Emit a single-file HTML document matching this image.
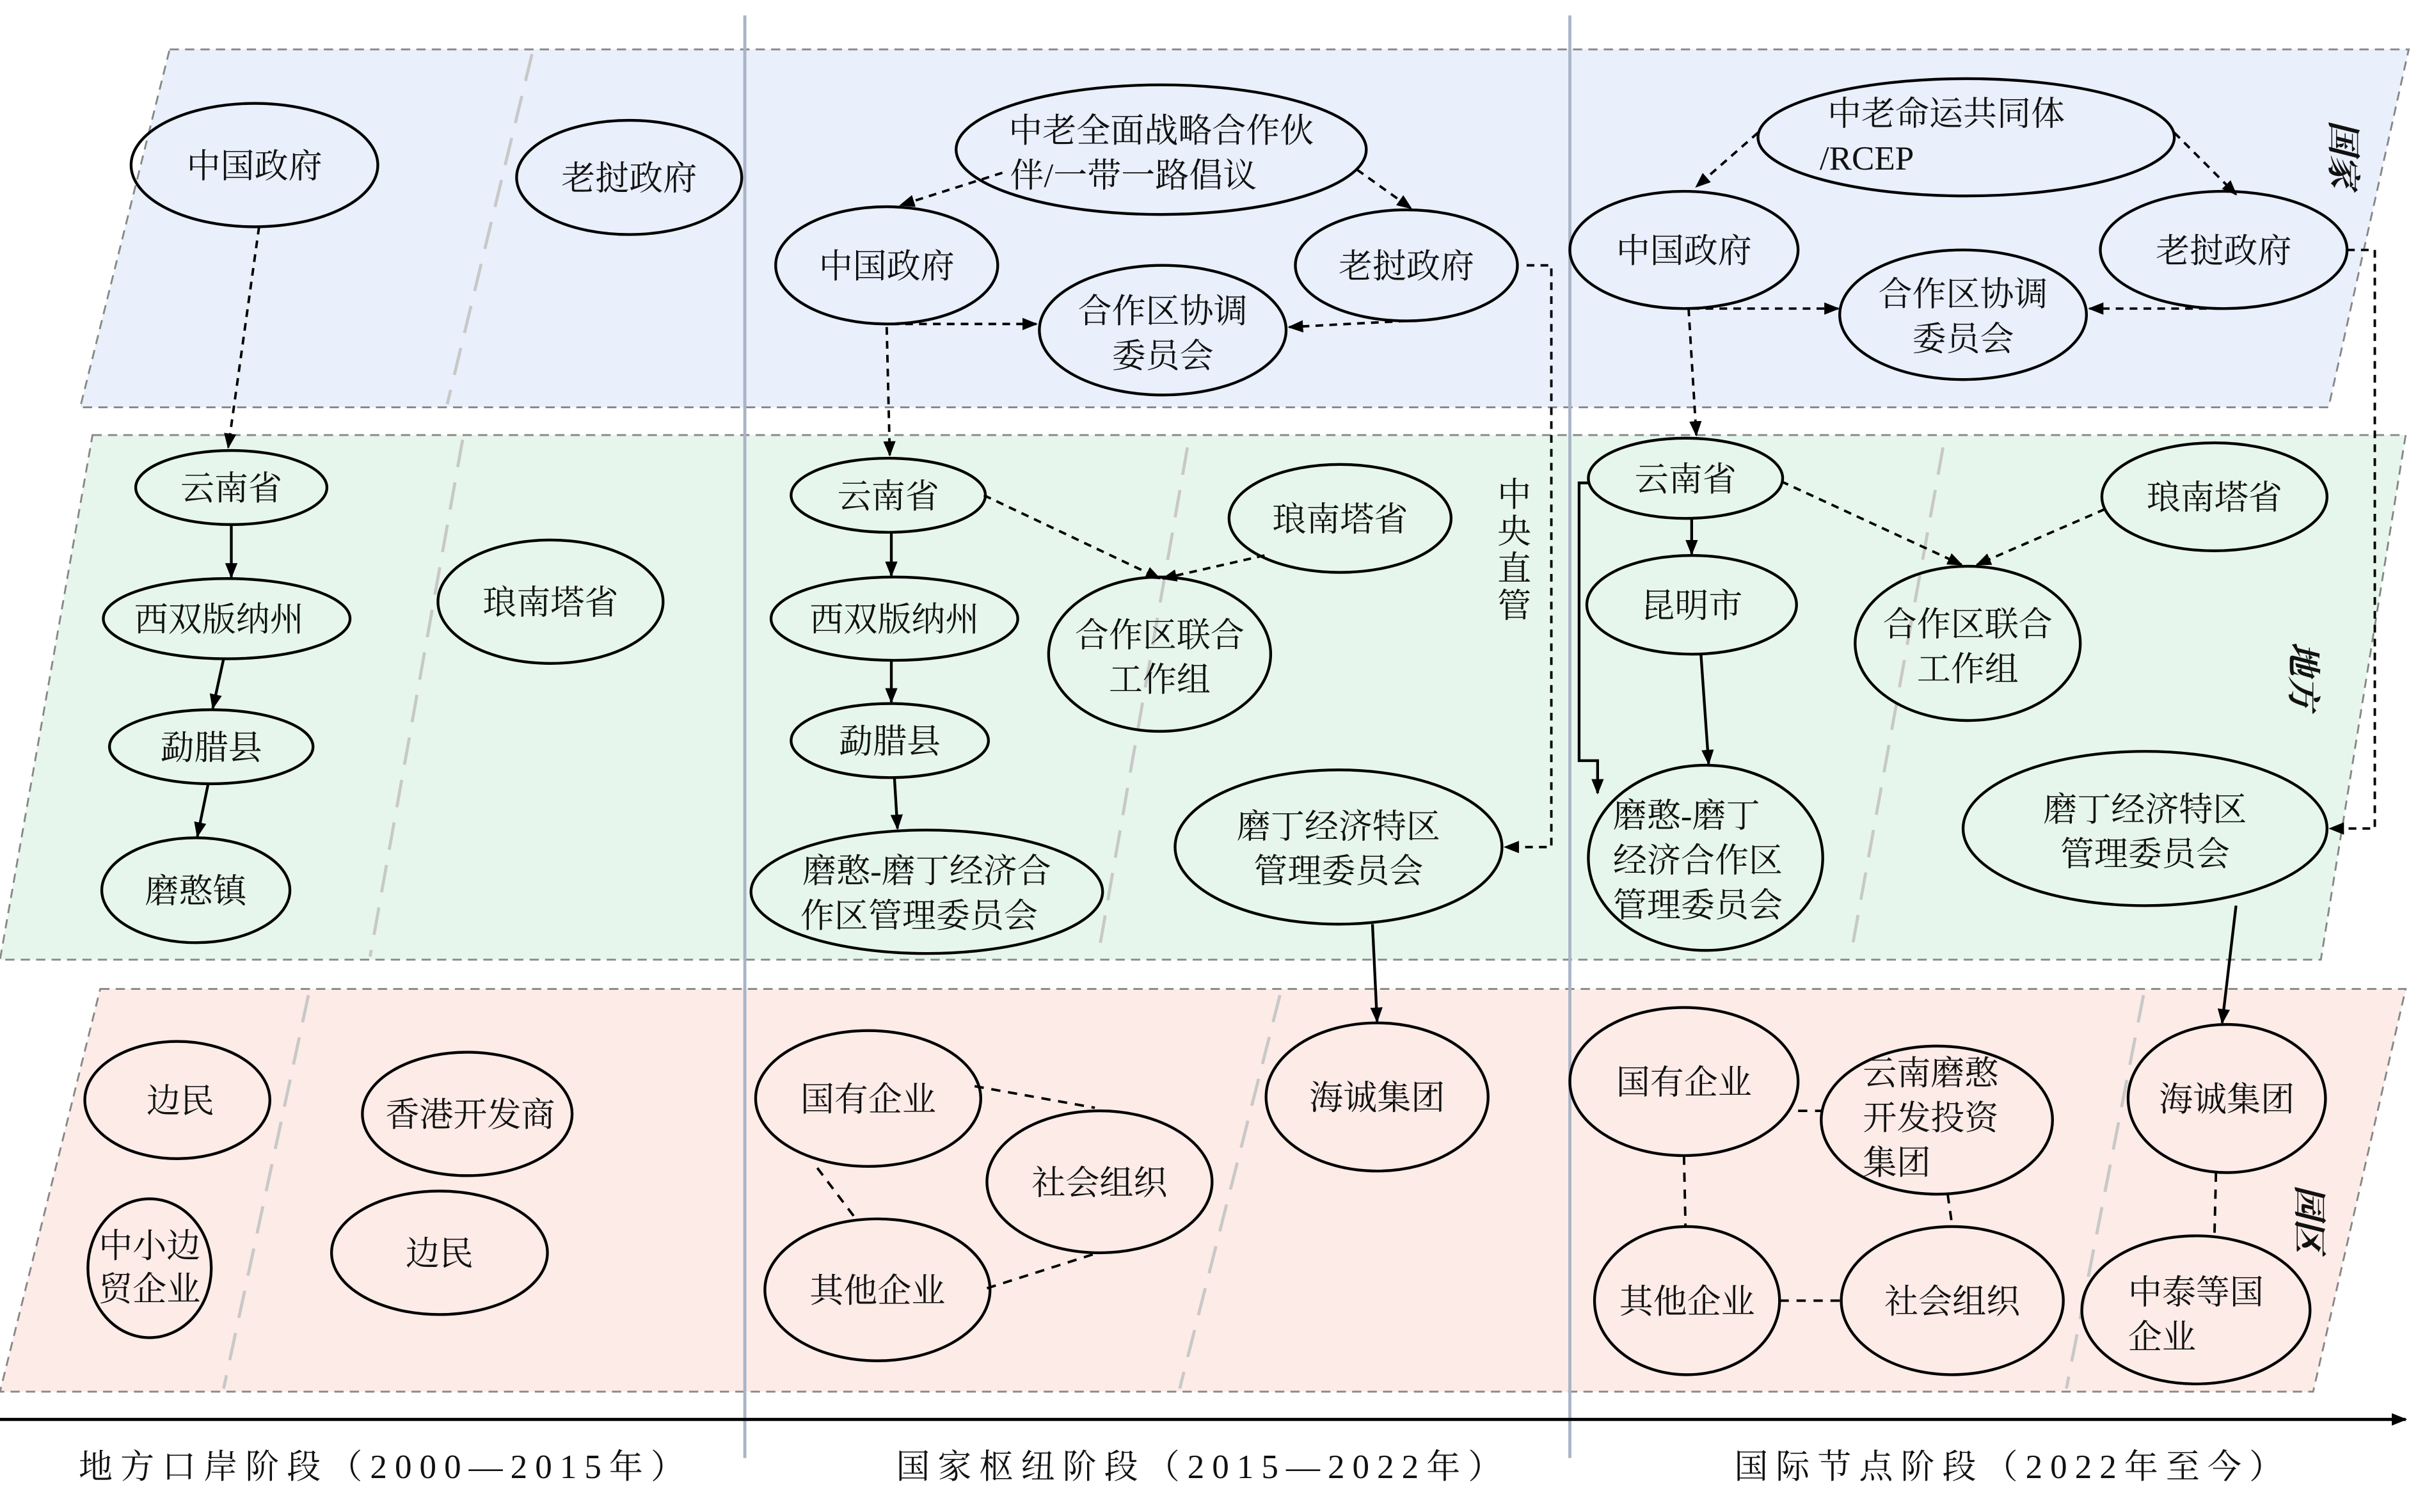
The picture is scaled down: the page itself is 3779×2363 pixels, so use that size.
<!DOCTYPE html>
<html><head><meta charset="utf-8"><style>
html,body{margin:0;padding:0;background:#fff;}
svg{display:block;}
text{font-family:"Liberation Serif","Noto Serif CJK SC","Noto Sans CJK SC",serif;font-size:22px;fill:#111;}
</style></head><body>
<svg width="3779" height="2363" viewBox="0 0 1568 980" preserveAspectRatio="none" xmlns="http://www.w3.org/2000/svg">
<defs>
<marker id="a" markerWidth="10" markerHeight="10" refX="9" refY="5" orient="auto" markerUnits="userSpaceOnUse"><path d="M0,1 L10,5 L0,9 z" fill="#000"/></marker>
</defs>
<polygon points="110,32 1562,32 1510,264 52,264" fill="#e9effb" stroke="#888" stroke-dasharray="6,4" stroke-width="1.2"/>
<polygon points="60,282 1560,282 1505,622 0,622" fill="#e6f6ec" stroke="#888" stroke-dasharray="6,4" stroke-width="1.2"/>
<polygon points="65,641 1560,641 1500,902 0,902" fill="#fcebe7" stroke="#888" stroke-dasharray="6,4" stroke-width="1.2"/>
<g stroke="#c8c8c8" stroke-width="2" stroke-dasharray="18,10">
<line x1="345" y1="35" x2="290" y2="262"/>
<line x1="300" y1="285" x2="240" y2="620"/>
<line x1="770" y1="290" x2="712" y2="620"/>
<line x1="1260" y1="290" x2="1200" y2="620"/>
<line x1="200" y1="645" x2="145" y2="900"/>
<line x1="830" y1="645" x2="765" y2="900"/>
<line x1="1390" y1="645" x2="1340" y2="900"/>
</g>
<line x1="483" y1="10" x2="483" y2="945" stroke="#a9b4c6" stroke-width="2"/>
<line x1="1018" y1="10" x2="1018" y2="945" stroke="#a9b4c6" stroke-width="2"/>
<line x1="0" y1="920" x2="1560" y2="920" stroke="#000" stroke-width="2" marker-end="url(#a)"/>

<g fill="none" stroke="#000" stroke-width="1.8">
<ellipse cx="165" cy="107" rx="80" ry="40"/>
<ellipse cx="408" cy="115" rx="73" ry="37"/>
<ellipse cx="150" cy="316" rx="62" ry="24"/>
<ellipse cx="147" cy="401" rx="80" ry="26"/>
<ellipse cx="137" cy="484" rx="66" ry="24"/>
<ellipse cx="127" cy="577" rx="61" ry="34"/>
<ellipse cx="357" cy="390" rx="73" ry="40"/>
<ellipse cx="115" cy="713" rx="60" ry="38"/>
<ellipse cx="303" cy="722" rx="68" ry="40"/>
<ellipse cx="97" cy="822" rx="40" ry="45"/>
<ellipse cx="285" cy="812" rx="70" ry="40"/>
<ellipse cx="753" cy="97" rx="133" ry="42"/>
<ellipse cx="575" cy="172" rx="72" ry="38"/>
<ellipse cx="912" cy="172" rx="72" ry="36"/>
<ellipse cx="754" cy="214" rx="80" ry="42"/>
<ellipse cx="576" cy="321" rx="63" ry="24"/>
<ellipse cx="580" cy="401" rx="80" ry="27"/>
<ellipse cx="577" cy="480" rx="64" ry="24"/>
<ellipse cx="601" cy="578" rx="114" ry="40"/>
<ellipse cx="869" cy="336" rx="72" ry="35"/>
<ellipse cx="752" cy="424" rx="72" ry="50"/>
<ellipse cx="868" cy="549" rx="106" ry="50"/>
<ellipse cx="893" cy="711" rx="72" ry="48"/>
<ellipse cx="563" cy="712" rx="73" ry="44"/>
<ellipse cx="713" cy="766" rx="73" ry="46"/>
<ellipse cx="569" cy="836" rx="73" ry="46"/>
<ellipse cx="1275" cy="89" rx="135" ry="38"/>
<ellipse cx="1092" cy="162" rx="74" ry="38"/>
<ellipse cx="1442" cy="162" rx="80" ry="38"/>
<ellipse cx="1273" cy="204" rx="80" ry="42"/>
<ellipse cx="1093" cy="310" rx="63" ry="26"/>
<ellipse cx="1097" cy="392" rx="68" ry="32"/>
<ellipse cx="1106" cy="556" rx="76" ry="60"/>
<ellipse cx="1436" cy="322" rx="73" ry="35"/>
<ellipse cx="1276" cy="417" rx="73" ry="50"/>
<ellipse cx="1391" cy="537" rx="118" ry="50"/>
<ellipse cx="1444" cy="712" rx="64" ry="48"/>
<ellipse cx="1424" cy="849" rx="74" ry="48"/>
<ellipse cx="1092" cy="701" rx="74" ry="48"/>
<ellipse cx="1256" cy="726" rx="75" ry="48"/>
<ellipse cx="1094" cy="843" rx="60" ry="48"/>
<ellipse cx="1266" cy="843" rx="72" ry="48"/>
</g>

<g fill="none" stroke="#000" stroke-width="1.6" stroke-dasharray="5,4" marker-end="url(#a)">
<line x1="168" y1="147" x2="148" y2="290"/>
<line x1="650" y1="112" x2="584" y2="133"/>
<line x1="880" y1="110" x2="915" y2="135"/>
<line x1="578" y1="210" x2="672" y2="210"/>
<line x1="912" y1="208" x2="836" y2="212"/>
<line x1="575" y1="212" x2="577" y2="295"/>
<line x1="638" y1="321" x2="752" y2="375"/>
<line x1="820" y1="360" x2="754" y2="375"/>
<polyline points="990,172 1006,172 1006,549 976,549"/>
<line x1="1140" y1="86" x2="1100" y2="121"/>
<line x1="1410" y1="86" x2="1450" y2="126"/>
<line x1="1097" y1="200" x2="1192" y2="200"/>
<line x1="1440" y1="200" x2="1355" y2="200"/>
<line x1="1095" y1="200" x2="1100" y2="282"/>
<line x1="1155" y1="312" x2="1272" y2="366"/>
<line x1="1365" y1="330" x2="1282" y2="366"/>
<polyline points="1522,162 1540,162 1540,537 1511,537"/>
</g>
<g fill="none" stroke="#000" stroke-width="1.8" marker-end="url(#a)">
<line x1="150" y1="340" x2="150" y2="374"/>
<line x1="145" y1="427" x2="138" y2="459"/>
<line x1="135" y1="508" x2="128" y2="542"/>
<line x1="578" y1="345" x2="578" y2="373"/>
<line x1="578" y1="428" x2="578" y2="455"/>
<line x1="580" y1="504" x2="582" y2="537"/>
<line x1="890" y1="599" x2="893" y2="662"/>
<line x1="1097" y1="336" x2="1097" y2="359"/>
<line x1="1103" y1="424" x2="1108" y2="495"/>
<polyline points="1030,313 1024,313 1024,493 1036,493 1036,514"/>
<line x1="1450" y1="587" x2="1441" y2="663"/>
</g>
<g stroke="#000" stroke-width="1.6" stroke-dasharray="6,5">
<line x1="632" y1="704" x2="710" y2="718"/>
<line x1="530" y1="757" x2="555" y2="790"/>
<line x1="640" y1="835" x2="712" y2="812"/>
<line x1="1166" y1="720" x2="1182" y2="720"/>
<line x1="1092" y1="749" x2="1093" y2="795"/>
<line x1="1263" y1="774" x2="1266" y2="795"/>
<line x1="1154" y1="843" x2="1194" y2="843"/>
<line x1="1437" y1="760" x2="1436" y2="801"/>
</g>

<g text-anchor="middle">
<text x="165" y="115">中国政府</text>
<text x="408" y="123">老挝政府</text>
<text x="150" y="324">云南省</text>
<text x="142" y="409">西双版纳州</text>
<text x="137" y="492">勐腊县</text>
<text x="127" y="585">磨憨镇</text>
<text x="357" y="398">琅南塔省</text>
<text x="117" y="721">边民</text>
<text x="305" y="730">香港开发商</text>
<text x="97" y="815">中小边</text>
<text x="97" y="843">贸企业</text>
<text x="285" y="820">边民</text>
<text x="753" y="92">中老全面战略合作伙</text>
<text x="735" y="121">伴/一带一路倡议</text>
<text x="575" y="180">中国政府</text>
<text x="912" y="180">老挝政府</text>
<text x="754" y="209">合作区协调</text>
<text x="754" y="238">委员会</text>
<text x="576" y="329">云南省</text>
<text x="580" y="409">西双版纳州</text>
<text x="577" y="488">勐腊县</text>
<text x="601" y="572">磨憨-磨丁经济合</text>
<text x="596" y="601">作区管理委员会</text>
<text x="869" y="344">琅南塔省</text>
<text x="752" y="419">合作区联合</text>
<text x="752" y="448">工作组</text>
<text x="868" y="543">磨丁经济特区</text>
<text x="868" y="572">管理委员会</text>
<text x="893" y="719">海诚集团</text>
<text x="563" y="720">国有企业</text>
<text x="713" y="774">社会组织</text>
<text x="569" y="844">其他企业</text>
<text x="1262" y="81">中老命运共同体</text>
<text x="1092" y="170">中国政府</text>
<text x="1442" y="170">老挝政府</text>
<text x="1273" y="198">合作区协调</text>
<text x="1273" y="227">委员会</text>
<text x="1093" y="318">云南省</text>
<text x="1097" y="400">昆明市</text>
<text x="1436" y="330">琅南塔省</text>
<text x="1276" y="412">合作区联合</text>
<text x="1276" y="441">工作组</text>
<text x="1391" y="532">磨丁经济特区</text>
<text x="1391" y="561">管理委员会</text>
<text x="1444" y="720">海诚集团</text>
<text x="1092" y="709">国有企业</text>
<text x="1094" y="851">其他企业</text>
<text x="1266" y="851">社会组织</text>
</g>
<g text-anchor="start">
<text x="1180" y="110">/RCEP</text>
<text x="1046" y="536">磨憨-磨丁</text>
<text x="1046" y="565">经济合作区</text>
<text x="1046" y="594">管理委员会</text>
<text x="1208" y="703">云南磨憨</text>
<text x="1208" y="732">开发投资</text>
<text x="1208" y="761">集团</text>
<text x="1380" y="845">中泰等国</text>
<text x="1380" y="874">企业</text>
</g>
<g text-anchor="middle">
<text x="982" y="328">中</text>
<text x="982" y="352">央</text>
<text x="982" y="376">直</text>
<text x="982" y="400">管</text>
</g>
<g font-weight="bold" font-style="italic" text-anchor="middle">
<text transform="translate(1512,100) rotate(90)">国家</text>
<text transform="translate(1486,438) rotate(90)">地方</text>
<text transform="translate(1490,790) rotate(90)">园区</text>
</g>
<g text-anchor="middle" letter-spacing="5">
<text x="250" y="958">地方口岸阶段（2000—2015年）</text>
<text x="780" y="958">国家枢纽阶段（2015—2022年）</text>
<text x="1305" y="958">国际节点阶段（2022年至今）</text>
</g>
</svg>
</body></html>
